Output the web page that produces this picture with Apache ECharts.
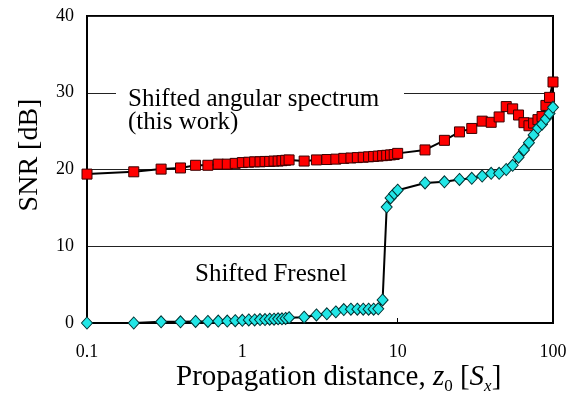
<!DOCTYPE html>
<html>
<head>
<meta charset="utf-8">
<script src="https://cdn.jsdelivr.net/npm/echarts@6/dist/echarts.min.js"></script>
<style>
  html, body { margin: 0; padding: 0; background: #fff; }
  #chart { width: 576px; height: 394px; }
</style>
</head>
<body>
<div id="chart"></div>
<script>
// distances z0 [Sx]
var distances = [0.1, 0.2, 0.3, 0.4, 0.5, 0.6, 0.7, 0.8, 0.9, 1.0,
  1.1, 1.2, 1.3, 1.4, 1.5, 1.6, 1.7, 1.8, 1.9, 2.0,
  2.5, 3, 3.5, 4, 4.5, 5, 5.5, 6, 6.5, 7, 7.5, 8, 8.5, 9, 9.5, 10,
  15, 20, 25, 30, 35, 40, 45, 50, 55, 60, 65, 70, 75, 80, 85, 90, 95, 100];

// SNR [dB], shifted angular spectrum
var snrAngular = [19.4, 19.7, 20.05, 20.2, 20.55, 20.55, 20.7, 20.7, 20.8, 20.9,
  20.95, 21.0, 21.0, 21.05, 21.05, 21.1, 21.1, 21.15, 21.2, 21.25,
  21.1, 21.25, 21.3, 21.35, 21.45, 21.5, 21.55, 21.6, 21.65, 21.7, 21.75, 21.8, 21.85, 21.9, 21.95, 22.1,
  22.55, 23.8, 24.9, 25.35, 26.3, 26.15, 26.85, 28.2, 27.9, 27.1, 26.1, 25.7, 26.05, 26.5, 26.9, 28.35, 29.4, 31.4];

// SNR [dB], shifted Fresnel
var snrFresnel = [0, 0, 0.15, 0.15, 0.2, 0.2, 0.25, 0.25, 0.3, 0.35,
  0.4, 0.4, 0.45, 0.45, 0.5, 0.5, 0.55, 0.55, 0.6, 0.7,
  0.75, 1.05, 1.2, 1.45, 1.75, 1.8, 1.8, 1.8, 1.8, 1.8, 1.85, 3.0, 15.1, 16.3, 16.85, 17.3,
  18.25, 18.4, 18.7, 18.85, 19.15, 19.5, 19.5, 20.0, 20.55, 21.6, 22.55, 23.5, 24.5, 25.4, 25.9, 26.6, 27.3, 28.1];

var yTicks = [0, 10, 20, 30, 40];

function pairs(ys) {
  return distances.map(function (x, i) { return [x, ys[i]]; });
}

var serif = '"Liberation Serif", "Times New Roman", serif';
var chart = echarts.init(document.getElementById('chart'));

var option = {
  animation: false,
  backgroundColor: '#fff',
  grid: {
    left: 87, right: 23, top: 16, bottom: 71,
    show: true, borderColor: '#000', borderWidth: 2
  },
  xAxis: {
    type: 'log',
    logBase: 10,
    min: 0.1,
    max: 100,
    axisLine: { lineStyle: { color: '#000', width: 2 } },
    axisTick: { show: true, inside: true, length: 5, lineStyle: { color: '#000' } },
    splitLine: { show: false },
    axisLabel: { color: '#000', fontFamily: serif, fontSize: 18, margin: 20 }
  },
  yAxis: {
    type: 'value',
    min: yTicks[0],
    max: yTicks[yTicks.length - 1],
    interval: 10,
    axisLine: { show: true, lineStyle: { color: '#000', width: 2 } },
    axisTick: { show: false },
    splitLine: { lineStyle: { color: '#222', width: 1 } },
    axisLabel: { color: '#000', fontFamily: serif, fontSize: 18, margin: 13 }
  },
  series: [{
    name: 'Shifted angular spectrum',
    type: 'line',
    data: pairs(snrAngular),
    clip: false,
    symbol: 'rect',
    symbolSize: 10,
    lineStyle: { color: '#000', width: 2 },
    itemStyle: { color: '#ff0000', borderColor: '#3a0000', borderWidth: 1 },
    z: 3
  }, {
    name: 'Shifted Fresnel',
    type: 'line',
    data: pairs(snrFresnel),
    clip: false,
    symbol: 'diamond',
    symbolSize: [11, 12],
    lineStyle: { color: '#000', width: 2 },
    itemStyle: { color: '#22e6e6', borderColor: '#003333', borderWidth: 1 },
    z: 4
  }],
  graphic: [
    // white box breaks the 30 dB gridline behind the label
    { type: 'rect', shape: { x: 116, y: 86, width: 288, height: 14 }, style: { fill: '#fff' }, z: 10 },
    { type: 'text', x: 128, y: 99.5, z: 11,
      style: { text: 'Shifted angular spectrum', fill: '#000', font: '25px ' + serif, verticalAlign: 'middle' } },
    { type: 'text', x: 128, y: 122, z: 11,
      style: { text: '(this work)', fill: '#000', font: '25px ' + serif, verticalAlign: 'middle' } },
    { type: 'text', x: 195, y: 274, z: 11,
      style: { text: 'Shifted Fresnel', fill: '#000', font: '25px ' + serif, verticalAlign: 'middle' } },
    { type: 'text', x: 30, y: 155, rotation: Math.PI / 2, z: 11,
      style: { text: 'SNR [dB]', fill: '#000', font: '28px ' + serif, align: 'center', verticalAlign: 'middle' } },
    { type: 'text', x: 176, y: 361, z: 11,
      style: {
        text: '{a|Propagation distance, }{i|z}{s|0}{a| [}{i|S}{si|x}{a|]}',
        verticalAlign: 'top',
        rich: {
          a: { fontFamily: serif, fontSize: 29, lineHeight: 32, color: '#000', verticalAlign: 'middle' },
          i: { fontFamily: serif, fontSize: 29, lineHeight: 32, fontStyle: 'italic', color: '#000', verticalAlign: 'middle' },
          s: { fontFamily: serif, fontSize: 17, lineHeight: 17, padding: [20, 0, 0, 0], color: '#000', verticalAlign: 'middle' },
          si: { fontFamily: serif, fontSize: 17, lineHeight: 17, padding: [20, 0, 0, 0], fontStyle: 'italic', color: '#000', verticalAlign: 'middle' }
        }
      } }
  ]
};

chart.setOption(option);
window.addEventListener('resize', chart.resize);
</script>
</body>
</html>
